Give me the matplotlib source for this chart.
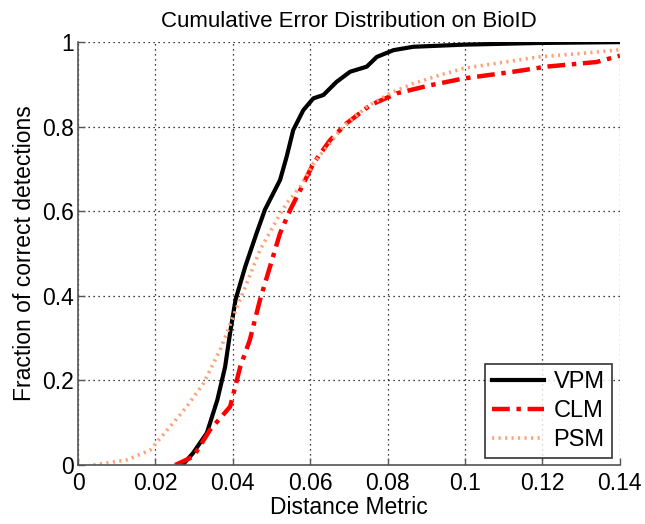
import numpy as np
import matplotlib
matplotlib.use('Agg')
import matplotlib.pyplot as plt

plt.rcParams['font.family'] = ['Liberation Sans', 'DejaVu Sans']

# Kurven
vpm_x = [0.0270, 0.0297, 0.0333, 0.0360, 0.0380, 0.0393, 0.0407, 0.0432, 0.0462, 0.0483,
         0.0522, 0.0539, 0.0556, 0.0582, 0.0608, 0.0634, 0.0668, 0.0703, 0.0746, 0.0772,
         0.0815, 0.0866, 0.0996, 0.1190, 0.1400]
vpm_y = [0.000, 0.028, 0.076, 0.154, 0.232, 0.313, 0.391, 0.469, 0.550, 0.604,
         0.674, 0.729, 0.792, 0.839, 0.867, 0.875, 0.906, 0.930, 0.942, 0.965,
         0.981, 0.989, 0.994, 0.998, 1.000]

clm_x = [0.0251, 0.0298, 0.0341, 0.0393, 0.0419, 0.0444, 0.0470, 0.0496, 0.0522, 0.0548,
         0.0574, 0.0608, 0.0651, 0.0694, 0.0755, 0.0824, 0.0910, 0.0996, 0.1125, 0.1210,
         0.1340, 0.1388, 0.1400]
clm_y = [0.000, 0.020, 0.083, 0.138, 0.232, 0.296, 0.390, 0.469, 0.548, 0.603,
         0.650, 0.713, 0.768, 0.808, 0.851, 0.879, 0.898, 0.914, 0.930, 0.942,
         0.953, 0.965, 0.968]

psm_x = [0.0040, 0.0126, 0.0186, 0.0238, 0.0281, 0.0324, 0.0367, 0.0401, 0.0436, 0.0470,
         0.0513, 0.0539, 0.0574, 0.0608, 0.0685, 0.0746, 0.0806, 0.0866, 0.0935, 0.0996,
         0.1082, 0.1190, 0.1297, 0.1390, 0.1400]
psm_y = [0.000, 0.012, 0.035, 0.091, 0.138, 0.193, 0.272, 0.351, 0.430, 0.508,
         0.579, 0.619, 0.658, 0.713, 0.800, 0.847, 0.879, 0.902, 0.922, 0.938,
         0.950, 0.965, 0.973, 0.981, 0.982]

x_ticks = [0, 0.02, 0.04, 0.06, 0.08, 0.1, 0.12, 0.14]
x_labels = ['0', '0.02', '0.04', '0.06', '0.08', '0.1', '0.12', '0.14']
y_ticks = [0, 0.2, 0.4, 0.6, 0.8, 1]
y_labels = ['0', '0.2', '0.4', '0.6', '0.8', '1']

fig = plt.figure(figsize=(6.45, 5.24), dpi=100)
ax = fig.add_axes([0.121, 0.1126, 0.840, 0.807])

ax.plot(vpm_x, vpm_y, color='black', linewidth=3, linestyle='-', label='VPM')
ax.plot(clm_x, clm_y, color='red', linewidth=3.2, linestyle=(0, (4, 1.5, 1, 1.5)), label='CLM')
ax.plot(psm_x, psm_y, color='#ffa27a', linewidth=2.6, linestyle=(0, (0.6, 1.2)), label='PSM')

ax.set_xlim(0, 0.14)
ax.set_ylim(0, 1)
ax.set_xticks(x_ticks)
ax.set_xticklabels(x_labels)
ax.set_yticks(y_ticks)
ax.set_yticklabels(y_labels)
ax.tick_params(direction='in', length=5, width=1, labelsize=16.5, color='#555555')
ax.tick_params(axis='x', pad=5)
ax.tick_params(axis='y', pad=3)

ax.grid(True, linestyle=(0, (1, 3)), color='black', linewidth=0.9)
for s in ['top', 'right']:
    ax.spines[s].set_visible(False)
for s in ['left', 'bottom']:
    ax.spines[s].set_color('#555555')
    ax.spines[s].set_linewidth(1.2)

ax.set_xlabel('Distance Metric', fontsize=16.5, labelpad=1)
ax.set_ylabel('Fraction of correct detections', fontsize=16.5, labelpad=4)
ax.set_title('Cumulative Error Distribution on BioID', fontsize=16, pad=11)

leg = ax.legend(loc='lower right', fontsize=17, frameon=True, fancybox=False,
                edgecolor='black', handlelength=2.2, borderpad=0.3, labelspacing=0.3,
                handletextpad=0.4, borderaxespad=0, bbox_to_anchor=(0.985, 0.0165))
leg.get_frame().set_linewidth(1.2)

plt.savefig('out.png', dpi=100)
